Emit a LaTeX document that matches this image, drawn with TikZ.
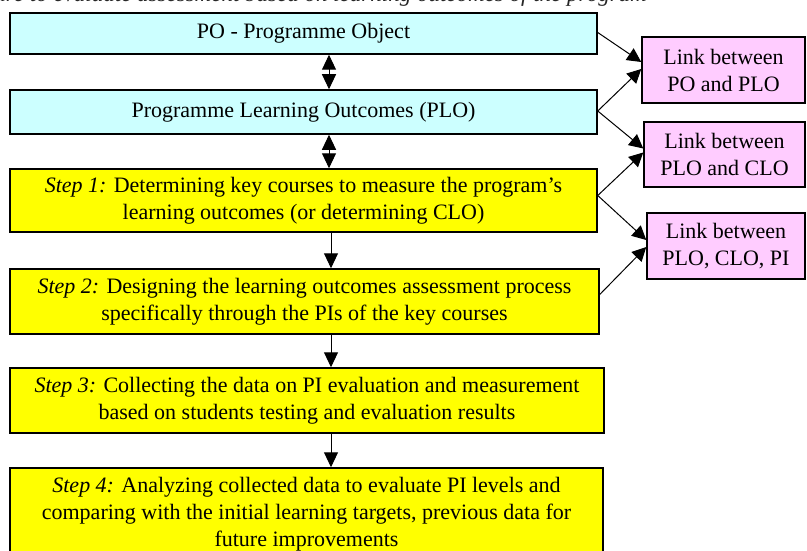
\documentclass[tikz,border=0pt]{standalone}
\usepackage{fontspec}
\setmainfont{Liberation Serif}
\usetikzlibrary{arrows.meta}
\definecolor{cyanbox}{HTML}{CCFFFF}
\definecolor{yellowbox}{HTML}{FFFF00}
\definecolor{pinkbox}{HTML}{FFCCFF}
\tikzset{
  box/.style={draw=black, line width=1.5pt, align=center, inner sep=0pt,
    font=\fontsize{22}{27}\selectfont},
  pobox/.style={box, fill=cyanbox},
  stepbox/.style={box, fill=yellowbox},
  linkbox/.style={box, fill=pinkbox},
  arr/.style={line width=1pt, -{Triangle[length=15pt,width=14pt]}},
  darr/.style={line width=1pt, {Triangle[length=15pt,width=14pt]}-{Triangle[length=15pt,width=14pt]}},
  sarr/.style={line width=1pt, -{Triangle[length=14pt,width=14pt]}}
}
\begin{document}
\begin{tikzpicture}[x=1pt,y=-1pt]
\useasboundingbox (0,0) rectangle (807,551);
\clip (0,0) rectangle (807,551);
\fill[white] (0,0) rectangle (807,551);
% clipped caption above
\node[anchor=base east, inner sep=0pt, text=black!85, font=\fontsize{23}{27}\selectfont\itshape] (title) at (647,2)
  {Procedure to evaluate assessment based on learning outcomes of the program};
% left column
\node[pobox, minimum width=587pt, minimum height=41pt] (po) at (303.5,33.5) {PO - Programme Object};
\node[pobox, minimum width=587pt, minimum height=44pt] (plo) at (303.5,112) {Programme Learning Outcomes (PLO)};
\node[stepbox, minimum width=587pt, minimum height=63pt] (s1) at (303.5,200.5)
  {{\itshape Step 1:} Determining key courses to measure the program’s\\learning outcomes (or determining CLO)};
\node[stepbox, minimum width=589pt, minimum height=65pt] (s2) at (304.5,301.5)
  {{\itshape Step 2:} Designing the learning outcomes assessment process\\specifically through the PIs of the key courses};
\node[stepbox, minimum width=594pt, minimum height=65pt] (s3) at (307,400.5)
  {{\itshape Step 3:} Collecting the data on PI evaluation and measurement\\based on students testing and evaluation results};
\node[stepbox, minimum width=593pt, minimum height=92pt] (s4) at (306.5,514)
  {{\itshape Step 4:} Analyzing collected data to evaluate PI levels and\\comparing with the initial learning targets, previous data for\\future improvements};
% right column
\node[linkbox, minimum width=163pt, minimum height=66pt] (l1) at (723.5,70) {Link between\\PO and PLO};
\node[linkbox, minimum width=161pt, minimum height=65pt] (l2) at (724.5,154.5) {Link between\\PLO and CLO};
\node[linkbox, minimum width=158pt, minimum height=66pt] (l3) at (726,246) {Link between\\PLO, CLO, PI};
% vertical connectors
\coordinate (a1) at (329,0);
\draw[darr] (po.south -| a1) -- (plo.north -| a1);
\draw[darr] (plo.south -| a1) -- (s1.north -| a1);
\coordinate (a2) at (331,0);
\draw[arr] (s1.south -| a2) -- (s2.north -| a2);
\draw[arr] (s2.south -| a2) -- (s3.north -| a2);
\draw[arr] (s3.south -| a2) -- (s4.north -| a2);
% side connectors
\draw[sarr] ([yshift=1pt]po.east) -- ([yshift=8pt]l1.west);
\draw[sarr] ([yshift=1pt]plo.east) -- ([yshift=1pt]l1.west);
\draw[sarr] ([yshift=1pt]plo.east) -- ([yshift=6pt]l2.west);
\draw[sarr] ([yshift=5pt]s1.east) -- ([yshift=2pt]l2.west);
\draw[sarr] ([yshift=5pt]s1.east) -- ([yshift=6pt]l3.west);
\draw[sarr] ([yshift=7pt]s2.east) -- ([yshift=-1pt]l3.west);
\end{tikzpicture}
\end{document}
